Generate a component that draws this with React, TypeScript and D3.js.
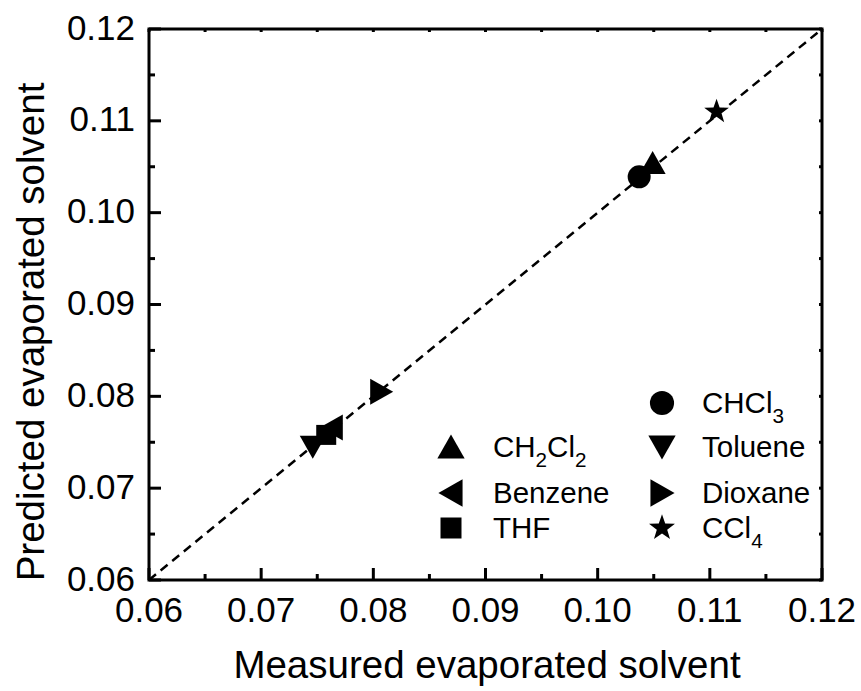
import React from 'react';
import * as d3 from 'd3';

// ---- data ----
const solvents = ['CHCl_3', 'CH_2Cl_2', 'Toluene', 'Benzene', 'Dioxane', 'THF', 'CCl_4'];
const symbols = ['circle', 'triUp', 'triDown', 'triLeft', 'triRight', 'square', 'star'];
const measured = [0.1037, 0.1049, 0.0746, 0.0763, 0.0807, 0.0758, 0.1106];
const predicted = [0.1039, 0.1054, 0.0745, 0.0766, 0.0805, 0.0758, 0.1110];
const legendCol = [1, 0, 1, 0, 1, 0, 1];
const legendRow = [0, 1, 1, 2, 2, 3, 3];
const xTicks = [0.06, 0.07, 0.08, 0.09, 0.1, 0.11, 0.12];
const yTicks = [0.06, 0.07, 0.08, 0.09, 0.1, 0.11, 0.12];
const minorTicks = [0.065, 0.075, 0.085, 0.095, 0.105, 0.115];
const xTitle = 'Measured evaporated solvent';
const yTitle = 'Predicted evaporated solvent';

const W = 861;
const H = 691;
const M = { left: 149, right: 822, top: 29, bottom: 580 };
const FONT = "Arial, 'Liberation Sans', Helvetica, sans-serif";

function symbolPath(kind: string, s = 1): string {
  switch (kind) {
    case 'triUp':
      return `M${-13 * s},${11 * s}L${13 * s},${11 * s}L0,${-12 * s}Z`;
    case 'triDown':
      return `M${-13 * s},${-11 * s}L${13 * s},${-11 * s}L0,${12 * s}Z`;
    case 'triLeft':
      return `M${11 * s},${-13 * s}L${11 * s},${13 * s}L${-12 * s},0Z`;
    case 'triRight':
      return `M${-11 * s},${-13 * s}L${-11 * s},${13 * s}L${12 * s},0Z`;
    case 'square':
      return `M${-10 * s},${-10 * s}H${10 * s}V${10 * s}H${-10 * s}Z`;
    case 'star': {
      const pts: string[] = [];
      for (let i = 0; i < 10; i++) {
        const r = (i % 2 === 0 ? 13 : 5.2) * s;
        const a = -Math.PI / 2 + (i * Math.PI) / 5;
        pts.push(`${(r * Math.cos(a)).toFixed(2)},${(r * Math.sin(a)).toFixed(2)}`);
      }
      return 'M' + pts.join('L') + 'Z';
    }
    default: {
      const r = 11.5 * s;
      return `M${-r},0A${r},${r} 0 1,0 ${r},0A${r},${r} 0 1,0 ${-r},0Z`;
    }
  }
}

function Label({ text, x, y, size }: { text: string; x: number; y: number; size: number }) {
  const parts = text.split(/(_\d)/).filter((p) => p.length > 0);
  let shifted = false;
  return (
    <text x={x} y={y} fontSize={size} fontFamily={FONT} fill="#000">
      {parts.map((p, i) => {
        if (p.startsWith('_')) {
          shifted = true;
          return (
            <tspan key={i} fontSize={size * 0.7} dy={10}>
              {p.slice(1)}
            </tspan>
          );
        }
        const dy = shifted ? -10 : 0;
        shifted = false;
        return (
          <tspan key={i} dy={dy}>
            {p}
          </tspan>
        );
      })}
    </text>
  );
}

export default function App() {
  const x = d3.scaleLinear().domain([0.06, 0.12]).range([M.left, M.right]);
  const y = d3.scaleLinear().domain([0.06, 0.12]).range([M.bottom, M.top]);

  const legendMarkerX = [451, 662];
  const legendTextX = [493, 702];
  const legendBaseline = [413, 457, 503, 538];

  return (
    <svg
      width={W}
      height={H}
      style={{ position: 'absolute', left: 0, top: 0, background: '#fff' }}
    >
      <rect x={0} y={0} width={W} height={H} fill="#fff" />
      {/* diagonal */}
      <line
        x1={x(0.06)}
        y1={y(0.06)}
        x2={x(0.12)}
        y2={y(0.12)}
        stroke="#000"
        strokeWidth={2.5}
        strokeDasharray="9,6"
      />
      {/* ticks */}
      <g stroke="#000" strokeWidth={3}>
        {xTicks.map((t) => (
          <g key={'xt' + t}>
            <line x1={x(t)} x2={x(t)} y1={M.bottom} y2={M.bottom - 12} />
            <line x1={x(t)} x2={x(t)} y1={M.top} y2={M.top + 3} />
          </g>
        ))}
        {yTicks.map((t) => (
          <g key={'yt' + t}>
            <line y1={y(t)} y2={y(t)} x1={M.left} x2={M.left + 12} />
            <line y1={y(t)} y2={y(t)} x1={M.right} x2={M.right - 3} />
          </g>
        ))}
        {minorTicks.map((t) => (
          <g key={'mt' + t}>
            <line x1={x(t)} x2={x(t)} y1={M.bottom} y2={M.bottom - 6} />
            <line x1={x(t)} x2={x(t)} y1={M.top} y2={M.top + 3} />
            <line y1={y(t)} y2={y(t)} x1={M.left} x2={M.left + 6} />
            <line y1={y(t)} y2={y(t)} x1={M.right} x2={M.right - 3} />
          </g>
        ))}
      </g>
      {/* frame */}
      <rect
        x={M.left}
        y={M.top}
        width={M.right - M.left}
        height={M.bottom - M.top}
        fill="none"
        stroke="#000"
        strokeWidth={3}
      />
      {/* tick labels */}
      {xTicks.map((t) => (
        <text
          key={'xl' + t}
          x={x(t)}
          y={M.bottom + 42}
          textAnchor="middle"
          fontSize={35}
          fontFamily={FONT}
        >
          {d3.format('.2f')(t)}
        </text>
      ))}
      {yTicks.map((t) => (
        <text
          key={'yl' + t}
          x={M.left - 14}
          y={y(t) + 10.5}
          textAnchor="end"
          fontSize={35}
          fontFamily={FONT}
        >
          {d3.format('.2f')(t)}
        </text>
      ))}
      {/* titles */}
      <text
        x={487}
        y={678}
        textAnchor="middle"
        fontSize={38.5}
        fontFamily={FONT}
      >
        {xTitle}
      </text>
      <text
        transform={`translate(44,332) rotate(-90)`}
        textAnchor="middle"
        fontSize={38.5}
        fontFamily={FONT}
      >
        {yTitle}
      </text>
      {/* points */}
      {solvents.map((s, i) => (
        <path
          key={'p' + s}
          d={symbolPath(symbols[i])}
          transform={`translate(${x(measured[i])},${y(predicted[i])})`}
          fill="#000"
        />
      ))}
      {/* legend */}
      {solvents.map((s, i) => {
        const c = legendCol[i];
        const by = legendBaseline[legendRow[i]];
        return (
          <g key={'lg' + s}>
            <path
              d={symbolPath(symbols[i], 1.05)}
              transform={`translate(${legendMarkerX[c]},${by - 10})`}
              fill="#000"
            />
            <Label text={s} x={legendTextX[c]} y={by} size={29.5} />
          </g>
        );
      })}
    </svg>
  );
}
